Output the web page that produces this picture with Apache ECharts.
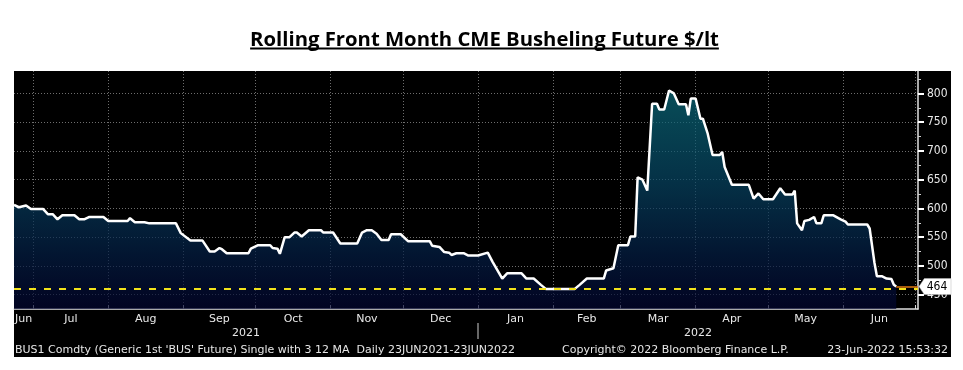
<!DOCTYPE html>
<html><head><meta charset="utf-8">
<script src="https://cdn.jsdelivr.net/npm/echarts@6/dist/echarts.min.js"></script>
<style>html,body{margin:0;padding:0;background:#fff}#c{width:963px;height:370px}</style>
</head><body><div id="c"></div>
<script>
const titleText = 'Rolling Front Month CME Busheling Future $/lt';

const dates = [
 '2021-06-23','2021-06-25','2021-06-28','2021-06-30','2021-07-05','2021-07-07','2021-07-09','2021-07-11','2021-07-13','2021-07-18',
 '2021-07-20','2021-07-22','2021-07-24','2021-07-30','2021-08-01','2021-08-09','2021-08-10','2021-08-12','2021-08-16','2021-08-18',
 '2021-08-29','2021-08-31','2021-09-04','2021-09-09','2021-09-12','2021-09-14','2021-09-16','2021-09-17','2021-09-19','2021-09-28',
 '2021-09-29','2021-10-02','2021-10-07','2021-10-08','2021-10-10','2021-10-11','2021-10-13','2021-10-15','2021-10-17','2021-10-18',
 '2021-10-20','2021-10-23','2021-10-28','2021-10-29','2021-11-02','2021-11-05','2021-11-12','2021-11-14','2021-11-16','2021-11-18',
 '2021-11-20','2021-11-22','2021-11-25','2021-11-26','2021-11-30','2021-12-03','2021-12-12','2021-12-13','2021-12-16','2021-12-18',
 '2021-12-20','2021-12-21','2021-12-23','2021-12-26','2021-12-28','2022-01-01','2022-01-05','2022-01-07','2022-01-11','2022-01-13',
 '2022-01-19','2022-01-21','2022-01-24','2022-01-27','2022-01-29','2022-02-10','2022-02-12','2022-02-15','2022-02-22','2022-02-23',
 '2022-02-26','2022-02-28','2022-03-04','2022-03-05','2022-03-07','2022-03-08','2022-03-10','2022-03-12','2022-03-14','2022-03-16',
 '2022-03-17','2022-03-19','2022-03-21','2022-03-23','2022-03-25','2022-03-28','2022-03-29','2022-03-30','2022-04-01','2022-04-03',
 '2022-04-04','2022-04-06','2022-04-08','2022-04-11','2022-04-12','2022-04-13','2022-04-16','2022-04-23','2022-04-25','2022-04-27',
 '2022-04-29','2022-05-03','2022-05-06','2022-05-08','2022-05-11','2022-05-12','2022-05-13','2022-05-15','2022-05-16','2022-05-18',
 '2022-05-20','2022-05-21','2022-05-23','2022-05-24','2022-05-28','2022-05-31','2022-06-02','2022-06-03','2022-06-11','2022-06-12',
 '2022-06-14','2022-06-15','2022-06-17','2022-06-19','2022-06-21','2022-06-22','2022-06-23'
];
const values = [
 606,602,605,599,599,590,590,581,588,588,
 581,581,585,585,578,578,583,576,576,574,
 574,557,544,544,525,525,531,529,522,522,
 530,536,536,531,530,521,550,550,558,558,
 551,562,562,558,558,539,539,558,562,562,
 556,545,545,555,555,543,543,535,533,524,
 523,519,522,522,518,518,523,507,478,487,
 487,478,478,467,460,460,467,478,478,492,
 496,536,536,551,551,654,650,631,782,782,
 772,772,805,800,781,781,762,791,791,756,
 756,730,693,693,698,672,641,641,617,626,
 616,616,635,624,624,631,574,562,578,580,
 585,574,574,588,588,581,577,572,572,565,
 505,482,482,478,477,467,464
];

const monthNames = ['Jan','Feb','Mar','Apr','May','Jun','Jul','Aug','Sep','Oct','Nov','Dec'];
const axisStart = '2021-06-23';
const axisEnd = '2022-07-02';
const yMin = 425, yMax = 839;
const majorTicks = [450,500,550,600,650,700,750,800];
const minorTicks = [475,525,575,625,675,725,775,825];
const footerLeft = "BUS1 Comdty (Generic 1st 'BUS' Future) Single with 3 12 MA  Daily 23JUN2021-23JUN2022";
const footerMid = 'Copyright\u00A9 2022 Bloomberg Finance L.P.';
const footerRight = '23-Jun-2022 15:53:32';

function ts(s){ const p = s.split('-').map(Number); return new Date(p[0], p[1]-1, p[2]).getTime(); }
const minT = ts(axisStart), maxT = ts(axisEnd);
const DAY = 86400000;

const monthStarts = [], monthLabelVals = [];
{
  const s = new Date(minT);
  let y = s.getFullYear(), m = s.getMonth();
  while (true) {
    const a = new Date(y, m, 1).getTime();
    const b = new Date(y, m + 1, 1).getTime();
    if (a > maxT) break;
    if (a > minT) monthStarts.push(a);
    const va = Math.max(a, minT), vb = Math.min(b, maxT);
    if (vb - va >= 5 * DAY) monthLabelVals.push((va + vb) / 2);
    m++; if (m > 11) { m = 0; y++; }
  }
}
const yearStarts = [], yearLabelVals = [];
for (let y = new Date(minT).getFullYear(); y <= new Date(maxT).getFullYear(); y++) {
  const a = new Date(y,0,1).getTime(), b = new Date(y+1,0,1).getTime();
  if (a > minT) yearStarts.push(a);
  yearLabelVals.push((Math.max(a,minT) + Math.min(b,maxT)) / 2);
}

const seriesData = dates.map((d,i) => [ts(d), values[i]]);
const lastDate = ts(dates[dates.length-1]);
const lastVal = values[values.length-1];

const UI_FONT = '"DejaVu Sans Condensed","Liberation Sans Narrow","DejaVu Sans",sans-serif';
const FOOT_FONT = '"DejaVu Sans",sans-serif';
const TITLE_FONT = '"Open Sans", Lato, "Liberation Sans", sans-serif';

const cv = document.createElement('canvas').getContext('2d');
cv.font = 'bold 20px ' + TITLE_FONT;
const titleSize = Math.round(20 * 469 / cv.measureText(titleText).width * 10) / 10;
cv.font = 'bold ' + titleSize + 'px ' + TITLE_FONT;
const titleW = cv.measureText(titleText).width;
const titleCx = 484.5;

const chart = echarts.init(document.getElementById('c'), null, {renderer:'canvas'});
chart.setOption({
  animation: false,
  backgroundColor: '#ffffff',
  grid: { left: 14, right: 45, top: 71, bottom: 61, containLabel: false },
  graphic: [
    { type:'rect', z:-10, silent:true, shape:{ x:14, y:71, width:937, height:286 }, style:{ fill:'#000000' } },
    { type:'text', z:10, silent:true, x: titleCx, y: 40, style:{ text: titleText, font: 'bold ' + titleSize + 'px ' + TITLE_FONT, fill:'#000', textAlign:'center', textVerticalAlign:'middle' } },
    { type:'line', z:10, silent:true, shape:{ x1: titleCx - titleW/2, y1: 48.5, x2: titleCx + titleW/2, y2: 48.5 }, style:{ stroke:'#000', lineWidth:2 } },
    { type:'text', z:10, silent:true, x: 15, y: 350, style:{ text: footerLeft, font:'11px ' + FOOT_FONT, fill:'#e6e6e6', textAlign:'left', textVerticalAlign:'middle' } },
    { type:'text', z:10, silent:true, x: 562, y: 350, style:{ text: footerMid, font:'11px ' + FOOT_FONT, fill:'#e6e6e6', textAlign:'left', textVerticalAlign:'middle' } },
    { type:'text', z:10, silent:true, x: 948, y: 350, style:{ text: footerRight, font:'11px ' + FOOT_FONT, fill:'#e6e6e6', textAlign:'right', textVerticalAlign:'middle' } }
  ],
  xAxis: [
    {
      type:'value', min: minT, max: maxT, position:'bottom',
      axisLine:{ show:true, lineStyle:{ color:'#e0e0e0', width:1.5 } },
      axisTick:{ show:true, inside:true, length:4, customValues: monthStarts, lineStyle:{ color:'#d8d8d8', width:1 } },
      splitLine:{ show:true, lineStyle:{ color:'#6e6e6e', type:[1,2], width:1 } },
      axisLabel:{ show:true, customValues: monthLabelVals, margin:5, color:'#e8e8e8', fontSize:11, fontFamily: FOOT_FONT,
        formatter: v => monthNames[new Date(v).getMonth()] }
    },
    {
      type:'value', min: minT, max: maxT, position:'bottom', offset:14,
      axisLine:{ show:false },
      axisTick:{ show:true, length:16, customValues: yearStarts, lineStyle:{ color:'#8a8a8a', width:1.5 } },
      splitLine:{ show:false },
      axisLabel:{ show:true, customValues: yearLabelVals, margin:5, color:'#e8e8e8', fontSize:11, fontFamily: FOOT_FONT,
        formatter: v => String(new Date(v).getFullYear()) }
    }
  ],
  yAxis: [
    {
      type:'value', min: yMin, max: yMax, position:'right',
      axisLine:{ show:true, lineStyle:{ color:'#e0e0e0', width:1.5 } },
      axisTick:{ show:true, length:6, customValues: majorTicks, lineStyle:{ color:'#ffffff', width:2 } },
      splitLine:{ show:true, lineStyle:{ color:'#6e6e6e', type:[1,2], width:1 } },
      axisLabel:{ show:true, customValues: majorTicks, margin:9, color:'#e8e8e8', fontSize:12, fontFamily: UI_FONT }
    },
    {
      type:'value', min: yMin, max: yMax, position:'right',
      axisLine:{ show:false },
      axisTick:{ show:true, length:3, customValues: minorTicks, lineStyle:{ color:'#cfcfcf', width:1 } },
      splitLine:{ show:false },
      axisLabel:{ show:false }
    }
  ],
  series: [{
    type:'line', xAxisIndex:0, yAxisIndex:0, data: seriesData, clip:false,
    showSymbol:false, symbol:'none',
    lineStyle:{ color:'#ffffff', width:2.5 },
    areaStyle:{ color: new echarts.graphic.LinearGradient(0,0,0,1,[
      { offset:0, color:'#0b6e7e' },
      { offset:0.4, color:'#074866' },
      { offset:0.75, color:'#041f46' },
      { offset:1, color:'#020530' }
    ]) },
    markLine:{
      silent:true, symbol:['none','none'], label:{ show:false }, animation:false,
      data:[
        { type:'min', lineStyle:{ color:'#f2e21a', type:[7,8], width:2 } },
        [ { coord:[lastDate, lastVal], lineStyle:{ color:'#e07a10', type:'solid', width:1.5 } }, { coord:[maxT, lastVal] } ]
      ]
    },
    markPoint:{
      silent:true, animation:false,
      data:[{
        coord:[maxT, lastVal],
        symbol:'path://M0,8 L6,0 L36,0 L36,16 L6,16 Z',
        symbolSize:[32,16], symbolOffset:[17,0], symbolKeepAspect:false,
        itemStyle:{ color:'#ffffff', borderColor:'#bbbbbb', borderWidth:0.5 },
        label:{ show:true, position:'inside', offset:[2,0], formatter: String(lastVal), color:'#000', fontSize:12, fontFamily: UI_FONT }
      }]
    }
  }]
});
</script></body></html>
